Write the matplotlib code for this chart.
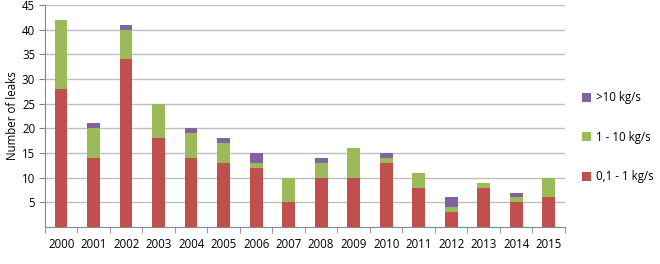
import matplotlib.pyplot as plt
import numpy as np

years = [str(y) for y in range(2000, 2016)]
low = [28, 14, 34, 18, 14, 13, 12, 5, 10, 10, 13, 8, 3, 8, 5, 6]
mid = [14, 6, 6, 7, 5, 4, 1, 5, 3, 6, 1, 3, 1, 1, 1, 4]
high = [0, 1, 1, 0, 1, 1, 2, 0, 1, 0, 1, 0, 2, 0, 1, 0]

plt.rcParams['font.family'] = ['Open Sans', 'DejaVu Sans']
plt.rcParams['font.size'] = 8.3

fig = plt.figure(figsize=(6.6, 2.64), dpi=100)
ax = fig.add_axes([0.068, 0.14, 0.788, 0.841])

x = np.arange(len(years))
low = np.array(low)
mid = np.array(mid)
high = np.array(high)
w = 0.39
b1 = ax.bar(x, low, w, color='#C0504D', label='0,1 - 1 kg/s', zorder=3)
b2 = ax.bar(x, mid, w, bottom=low, color='#9BBB59', label='1 - 10 kg/s', zorder=3)
b3 = ax.bar(x, high, w, bottom=low + mid, color='#8064A2', label='>10 kg/s', zorder=3)

ax.set_xlim(-0.5, len(years) - 0.5)
ax.set_ylim(0, 45)
ax.set_yticks(range(5, 46, 5))
ax.set_xticks(x)
ax.set_xticklabels(years)
ax.tick_params(axis='x', length=0, pad=8)
ax.set_xticks(np.arange(-0.5, len(years), 1), minor=True)
ax.tick_params(axis='x', which='minor', length=4, direction='out', color='#888888')
ax.tick_params(axis='y', length=4, direction='out', color='#888888', pad=3)
ax.yaxis.grid(True, color='#BFBFBF', linewidth=1, zorder=0)
for s in ['top', 'right']:
    ax.spines[s].set_visible(False)
for s in ['left', 'bottom']:
    ax.spines[s].set_color('#888888')
ax.set_ylabel('Number of leaks', labelpad=2)

fig.legend(handles=[b3, b2, b1], loc='center left', bbox_to_anchor=(0.866, 0.48),
           frameon=False, labelspacing=2.3, handlelength=0.8, handleheight=0.8,
           handletextpad=0.4)

fig.savefig('out.png', dpi=100)
